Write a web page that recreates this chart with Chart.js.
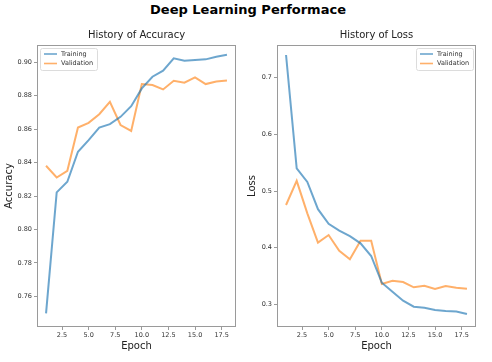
<!DOCTYPE html>
<html>
<head>
<meta charset="utf-8">
<script src="https://cdn.jsdelivr.net/npm/chart.js@4"></script>
<style>
  html, body { margin: 0; padding: 0; background: #fff; }
  #wrap { position: relative; width: 492px; height: 362px; overflow: hidden; }
  #wrap canvas { position: absolute; left: 0; top: 0; }
  #main { position: absolute; left: 0; top: 1px; width: 496px; text-align: center;
          font: bold 13px "DejaVu Sans", sans-serif; color: #000; line-height: 18px; }
</style>
</head>
<body>
<div id="wrap">
  <div id="main">Deep Learning Performace</div>
  <canvas id="acc" width="492" height="362"></canvas>
  <canvas id="loss" width="492" height="362"></canvas>
</div>
<script>
const epochs = [1,2,3,4,5,6,7,8,9,10,11,12,13,14,15,16,17,18];
const accTrain = [0.7498,0.8222,0.8285,0.8465,0.8535,0.8610,0.8630,0.8674,0.8738,0.8844,0.8914,0.8950,0.9024,0.9010,0.9014,0.9018,0.9034,0.9045];
const accVal   = [0.8381,0.8311,0.8351,0.8610,0.8638,0.8690,0.8764,0.8625,0.8590,0.8870,0.8864,0.8838,0.8890,0.8878,0.8910,0.8870,0.8886,0.8892];
const lossTrain = [0.740,0.540,0.516,0.468,0.442,0.430,0.4205,0.4077,0.3853,0.3381,0.3222,0.3064,0.2958,0.2940,0.2900,0.2882,0.2875,0.2830];
const lossVal   = [0.4753,0.518,0.4606,0.409,0.4223,0.3946,0.3794,0.4123,0.4123,0.3358,0.3417,0.3394,0.3300,0.3328,0.3270,0.3323,0.3293,0.3276];
const xTicks = [2.5,5.0,7.5,10.0,12.5,15.0,17.5];
const accTicks = [0.76,0.78,0.80,0.82,0.84,0.86,0.88,0.90];
const lossTicks = [0.3,0.4,0.5,0.6,0.7];
const seriesNames = ['Training','Validation'];
const subTitles = ['History of Accuracy','History of Loss'];
const yTitles = ['Accuracy','Loss'];

const BLUE = 'rgba(31,119,180,0.65)';
const ORANGE = 'rgba(255,127,14,0.62)';
const FONT = '"DejaVu Sans", sans-serif';
const FRAME = '#9a9a9a';

const framePlugin = {
  id: 'frameLegend',
  afterDraw(chart, args, opts) {
    const ctx = chart.ctx, ca = chart.chartArea;
    ctx.save();
    ctx.strokeStyle = FRAME;
    ctx.lineWidth = 1;
    ctx.strokeRect(Math.round(ca.left)+0.5, Math.round(ca.top)+0.5,
                   Math.round(ca.right-ca.left)-1, Math.round(ca.bottom-ca.top)-1);
    // legend
    const w = 57, h = 22;
    const bx = opts.side === 'left' ? ca.left + 3 : ca.right - 3 - w;
    const by = ca.top + 3;
    ctx.fillStyle = 'rgba(255,255,255,0.85)';
    ctx.strokeStyle = '#dcdcdc';
    ctx.beginPath();
    ctx.roundRect(bx+0.5, by+0.5, w, h, 2);
    ctx.fill(); ctx.stroke();
    ctx.font = '6.5px ' + FONT;
    ctx.textBaseline = 'middle';
    ctx.textAlign = 'left';
    chart.data.datasets.forEach((ds, i) => {
      const yy = by + 6 + i * 9.5;
      ctx.strokeStyle = ds.borderColor;
      ctx.lineWidth = 1.6;
      ctx.beginPath();
      ctx.moveTo(bx + 4, yy); ctx.lineTo(bx + 17, yy); ctx.stroke();
      ctx.fillStyle = '#333';
      ctx.fillText(ds.label, bx + 21, yy);
    });
    ctx.restore();
  }
};

function makeChart(id, trainData, valData, yTickVals, yMin, yMax, decimals, idx, padLeft, padRight, yTitlePad, side) {
  return new Chart(document.getElementById(id), {
    type: 'line',
    data: {
      datasets: [
        { label: seriesNames[0], data: epochs.map((e,i)=>({x:e, y:trainData[i]})),
          borderColor: BLUE, borderWidth: 2, pointRadius: 0, tension: 0, fill: false },
        { label: seriesNames[1], data: epochs.map((e,i)=>({x:e, y:valData[i]})),
          borderColor: ORANGE, borderWidth: 2, pointRadius: 0, tension: 0, fill: false }
      ]
    },
    options: {
      responsive: false,
      animation: false,
      events: [],
      layout: { padding: { left: padLeft, right: padRight, top: 0, bottom: 0 } },
      plugins: {
        legend: { display: false },
        tooltip: { enabled: false },
        title: {
          display: true, text: subTitles[idx], fullSize: false,
          color: '#222', font: { family: FONT, size: 10, weight: 'normal' },
          padding: { top: 29, bottom: 4 }
        },
        frameLegend: { side: side }
      },
      scales: {
        x: {
          type: 'linear', min: 0.15, max: 18.85,
          afterBuildTicks: s => { s.ticks = xTicks.map(v => ({ value: v })); },
          afterFit: s => { s.height = 35; },
          grid: { display: true, drawOnChartArea: false, drawTicks: true, tickLength: 3, color: FRAME },
          border: { display: false },
          ticks: { color: '#333', font: { family: FONT, size: 6.5 }, padding: 1, maxRotation: 0,
                   autoSkip: false, callback: v => v.toFixed(1) },
          title: { display: true, text: 'Epoch', color: '#222', font: { family: FONT, size: 10 },
                   padding: { top: 0, bottom: 10 } }
        },
        y: {
          type: 'linear', min: yMin, max: yMax,
          afterBuildTicks: s => { s.ticks = yTickVals.map(v => ({ value: v })); },
          afterFit: s => { s.width = 37; },
          grid: { display: true, drawOnChartArea: false, drawTicks: true, tickLength: 3, color: FRAME },
          border: { display: false },
          ticks: { color: '#333', font: { family: FONT, size: 6.5 }, padding: 2,
                   autoSkip: false, callback: v => v.toFixed(decimals) },
          title: { display: true, text: yTitles[idx], color: '#222', font: { family: FONT, size: 10 },
                   padding: { top: yTitlePad, bottom: 0 } }
        }
      }
    },
    plugins: [framePlugin]
  });
}

makeChart('acc', accTrain, accVal, accTicks, 0.7416, 0.9104, 2, 0, 0, 256, 3, 'left');
makeChart('loss', lossTrain, lossVal, lossTicks, 0.260, 0.7577, 1, 1, 240, 16, 6, 'right');
</script>
</body>
</html>
